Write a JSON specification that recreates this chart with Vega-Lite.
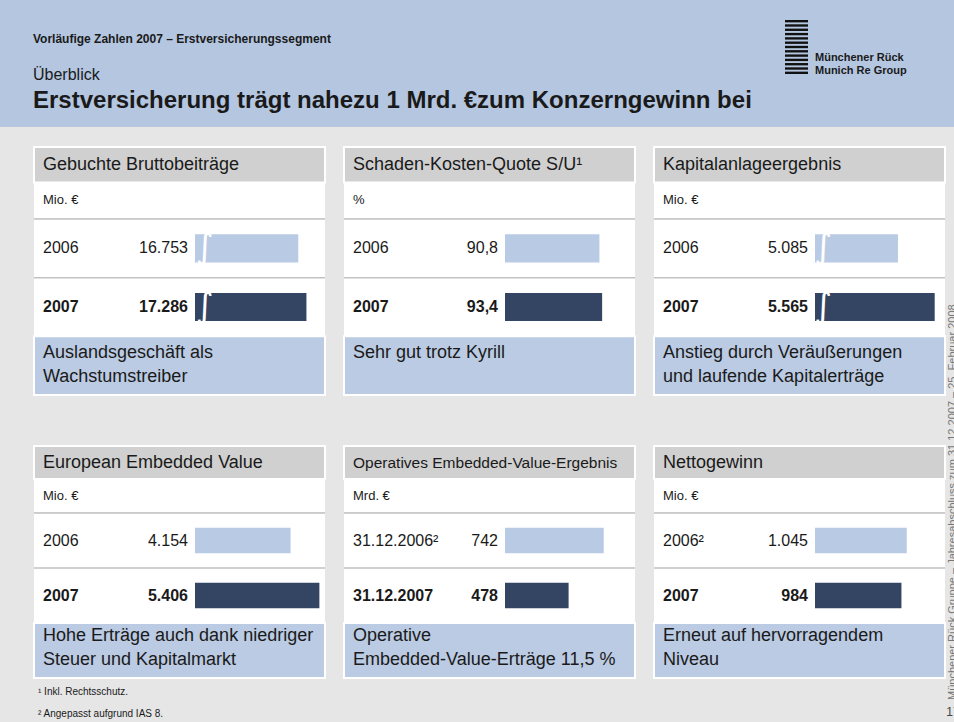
{
  "$schema": "https://vega.github.io/schema/vega-lite/v6.json",
  "background": "#e6e6e6",
  "padding": 0,
  "bounds": "flush",
  "spacing": 20,
  "config": {
    "view": {"stroke": null},
    "font": "Liberation Sans",
    "text": {"font": "Liberation Sans", "color": "#1a1a1a", "lineBreak": "\n"},
    "locale": {"number": {"decimal": ",", "thousands": ".", "grouping": [3], "currency": ["", " €"]}}
  },
  "datasets": {
    "panels": [
      {"panel": "P1", "titel": "Gebuchte Bruttobeiträge", "einheit": "Mio. €", "kommentar": "Auslandsgeschäft als\nWachstumstreiber"},
      {"panel": "P2", "titel": "Schaden-Kosten-Quote S/U¹", "einheit": "%", "kommentar": "Sehr gut trotz Kyrill"},
      {"panel": "P3", "titel": "Kapitalanlageergebnis", "einheit": "Mio. €", "kommentar": "Anstieg durch Veräußerungen\nund laufende Kapitalerträge"},
      {"panel": "P4", "titel": "European Embedded Value", "einheit": "Mio. €", "kommentar": "Hohe Erträge auch dank niedriger\nSteuer und Kapitalmarkt"},
      {"panel": "P5", "titel": "Operatives Embedded-Value-Ergebnis", "einheit": "Mrd. €", "kommentar": "Operative\nEmbedded-Value-Erträge 11,5 %"},
      {"panel": "P6", "titel": "Nettogewinn", "einheit": "Mio. €", "kommentar": "Erneut auf hervorragendem\nNiveau"}
    ],
    "werte": [
      {"panel": "P1", "jahr": "2006", "bezeichnung": "2006", "wert": 16753},
      {"panel": "P1", "jahr": "2007", "bezeichnung": "2007", "wert": 17286},
      {"panel": "P2", "jahr": "2006", "bezeichnung": "2006", "wert": 90.8},
      {"panel": "P2", "jahr": "2007", "bezeichnung": "2007", "wert": 93.4},
      {"panel": "P3", "jahr": "2006", "bezeichnung": "2006", "wert": 5085},
      {"panel": "P3", "jahr": "2007", "bezeichnung": "2007", "wert": 5565},
      {"panel": "P4", "jahr": "2006", "bezeichnung": "2006", "wert": 4154},
      {"panel": "P4", "jahr": "2007", "bezeichnung": "2007", "wert": 5406},
      {"panel": "P5", "jahr": "2006", "bezeichnung": "31.12.2006²", "wert": 742},
      {"panel": "P5", "jahr": "2007", "bezeichnung": "31.12.2007", "wert": 478},
      {"panel": "P6", "jahr": "2006", "bezeichnung": "2006²", "wert": 1045},
      {"panel": "P6", "jahr": "2007", "bezeichnung": "2007", "wert": 984}
    ]
  },
  "vconcat": [
    {
      "width": 954, "height": 127,
      "view": {"fill": "#b4c6e0", "stroke": null},
      "resolve": {"scale": {"x": "independent", "y": "independent"}},
      "layer": [
        {"layer": [
          {"data": {"values": [{"text": "Vorläufige Zahlen 2007 – Erstversicherungssegment"}]},
           "mark": {"type": "text", "align": "left", "baseline": "middle", "fontSize": 12, "fontWeight": "bold"},
           "encoding": {
             "x": {"datum": "Text", "type": "nominal", "scale": {"type": "point", "domain": ["Text", "Logo"], "range": [33, 815], "padding": 0}, "axis": null},
             "y": {"datum": "Kopf", "type": "nominal", "scale": {"type": "point", "domain": ["Kopf", "Logo", "Thema", "Titel"], "range": [39, 101], "padding": 0}, "axis": null},
             "text": {"field": "text"}}},
          {"data": {"values": [{"text": "Überblick"}]},
           "mark": {"type": "text", "align": "left", "baseline": "middle", "fontSize": 16, "dy": -5},
           "encoding": {"x": {"datum": "Text", "type": "nominal"}, "y": {"datum": "Thema", "type": "nominal"}, "text": {"field": "text"}}},
          {"data": {"values": [{"text": "Erstversicherung trägt nahezu 1 Mrd. €zum Konzerngewinn bei"}]},
           "mark": {"type": "text", "align": "left", "baseline": "middle", "fontSize": 24, "fontWeight": "bold"},
           "encoding": {"x": {"datum": "Text", "type": "nominal"}, "y": {"datum": "Titel", "type": "nominal"}, "text": {"field": "text"}}},
          {"data": {"values": [{"text": "Münchener Rück\nMunich Re Group"}]},
           "mark": {"type": "text", "align": "left", "baseline": "middle", "fontSize": 11, "fontWeight": "bold", "lineHeight": 13, "dy": -2},
           "encoding": {"x": {"datum": "Logo", "type": "nominal"}, "y": {"datum": "Logo", "type": "nominal"}, "text": {"field": "text"}}}
        ]},
        {"data": {"values": [{"streifen": 1}, {"streifen": 2}, {"streifen": 3}, {"streifen": 4}, {"streifen": 5}, {"streifen": 6}, {"streifen": 7}, {"streifen": 8}, {"streifen": 9}, {"streifen": 10}, {"streifen": 11}, {"streifen": 12}, {"streifen": 13}]},
         "mark": {"type": "bar", "color": "#111111"},
         "encoding": {
           "x": {"datum": 0, "type": "quantitative", "scale": {"domain": [0, 1], "range": [785, 808], "nice": false, "zero": false}, "axis": null},
           "x2": {"datum": 1},
           "y": {"field": "streifen", "type": "ordinal", "scale": {"range": [20, 74], "paddingInner": 0.45, "paddingOuter": 0}, "axis": null}}}
      ]
    },
    {
      "spacing": 0,
      "hconcat": [
        {"width": 33, "height": 575, "data": {"values": [{}]}, "mark": {"type": "text"}, "encoding": {"text": {"value": ""}}},
        {
          "spacing": 0,
          "vconcat": [
            {
              "spacing": 49,
              "vconcat": [
                {
                  "spacing": 17,
                  "hconcat": [
                    {"spacing": 0, "vconcat": [
                      {"width": 291, "height": 71, "view": {"fill": "white", "stroke": null},
                       "data": {"name": "panels"}, "transform": [{"filter": "datum.panel == 'P1'"}],
                       "layer": [
                         {"mark": {"type": "rect", "fill": "#d0d0d0", "stroke": "white", "strokeWidth": 2},
                          "encoding": {"y": {"datum": "Titel", "type": "nominal", "scale": {"domain": ["Titel", "Einheit"], "paddingInner": 0, "paddingOuter": 0}, "axis": null}}},
                         {"mark": {"type": "text", "align": "left", "baseline": "middle", "fontSize": 18},
                          "encoding": {"x": {"datum": "Bezeichnung", "type": "nominal", "scale": {"type": "point", "domain": ["Bezeichnung", "Wert"], "range": [9, 154], "padding": 0}, "axis": null}, "y": {"datum": "Titel", "type": "nominal"}, "text": {"field": "titel"}}},
                         {"mark": {"type": "text", "align": "left", "baseline": "middle", "fontSize": 13},
                          "encoding": {"x": {"datum": "Bezeichnung", "type": "nominal"}, "y": {"datum": "Einheit", "type": "nominal"}, "text": {"field": "einheit"}}}
                       ]},
                      {"width": 291, "height": 176, "view": {"fill": "white", "stroke": null},
                       "resolve": {"scale": {"x": "independent"}},
                       "layer": [
                         {"data": {"name": "panels"}, "transform": [{"filter": "datum.panel == 'P1'"}],
                          "mark": {"type": "rect", "fill": "#bacbe3", "stroke": "white", "strokeWidth": 2},
                          "encoding": {"y": {"datum": "Kommentar", "type": "nominal", "scale": {"domain": ["2006", "2007", "Kommentar"], "paddingInner": 0, "paddingOuter": 0}, "axis": null}}},
                         {"data": {"name": "werte"}, "transform": [{"filter": "datum.panel == 'P1'"}],
                          "mark": {"type": "rule", "color": "#c2c2c2", "strokeWidth": 1.5},
                          "encoding": {"y": {"field": "jahr", "type": "nominal", "bandPosition": 0}}},
                         {"data": {"name": "werte"}, "transform": [{"filter": "datum.panel == 'P1'"}],
                          "mark": {"type": "bar", "height": {"band": 0.48}},
                          "encoding": {
                            "x": {"field": "wert", "type": "quantitative", "scale": {"domain": [10000, 18500], "range": [161, 291], "nice": false, "zero": false}, "axis": null},
                            "x2": {"datum": 10000},
                            "y": {"field": "jahr", "type": "nominal"},
                            "color": {"field": "jahr", "type": "nominal", "scale": {"domain": ["2006", "2007"], "range": ["#b9cbe4", "#344563"]}, "legend": null}}},
                         {"data": {"name": "werte"}, "transform": [{"filter": "datum.panel == 'P1'"}],
                          "mark": {"type": "text", "text": "∫", "font": "DejaVu Sans", "fontSize": 34, "color": "white", "baseline": "middle", "align": "center"},
                          "encoding": {"x": {"datum": 10650, "type": "quantitative", "scale": {"domain": [10000, 18500], "range": [161, 291], "nice": false, "zero": false}, "axis": null}, "y": {"field": "jahr", "type": "nominal"}}},
                         {"data": {"name": "werte"}, "transform": [{"filter": "datum.panel == 'P1' && datum.jahr == '2006'"}],
                          "mark": {"type": "text", "align": "left", "baseline": "middle", "fontSize": 16},
                          "encoding": {"x": {"datum": "Bezeichnung", "type": "nominal", "scale": {"type": "point", "domain": ["Bezeichnung", "Wert"], "range": [9, 154], "padding": 0}, "axis": null}, "y": {"field": "jahr", "type": "nominal"}, "text": {"field": "bezeichnung"}}},
                         {"data": {"name": "werte"}, "transform": [{"filter": "datum.panel == 'P1' && datum.jahr == '2007'"}],
                          "mark": {"type": "text", "align": "left", "baseline": "middle", "fontSize": 16, "fontWeight": "bold"},
                          "encoding": {"x": {"datum": "Bezeichnung", "type": "nominal", "scale": {"type": "point", "domain": ["Bezeichnung", "Wert"], "range": [9, 154], "padding": 0}, "axis": null}, "y": {"field": "jahr", "type": "nominal"}, "text": {"field": "bezeichnung"}}},
                         {"data": {"name": "werte"}, "transform": [{"filter": "datum.panel == 'P1' && datum.jahr == '2006'"}],
                          "mark": {"type": "text", "align": "right", "baseline": "middle", "fontSize": 16},
                          "encoding": {"x": {"datum": "Wert", "type": "nominal", "scale": {"type": "point", "domain": ["Bezeichnung", "Wert"], "range": [9, 154], "padding": 0}, "axis": null}, "y": {"field": "jahr", "type": "nominal"}, "text": {"field": "wert", "type": "quantitative", "format": ",.0f"}}},
                         {"data": {"name": "werte"}, "transform": [{"filter": "datum.panel == 'P1' && datum.jahr == '2007'"}],
                          "mark": {"type": "text", "align": "right", "baseline": "middle", "fontSize": 16, "fontWeight": "bold"},
                          "encoding": {"x": {"datum": "Wert", "type": "nominal", "scale": {"type": "point", "domain": ["Bezeichnung", "Wert"], "range": [9, 154], "padding": 0}, "axis": null}, "y": {"field": "jahr", "type": "nominal"}, "text": {"field": "wert", "type": "quantitative", "format": ",.0f"}}},
                         {"data": {"name": "panels"}, "transform": [{"filter": "datum.panel == 'P1'"}],
                          "mark": {"type": "text", "align": "left", "baseline": "top", "fontSize": 18, "lineHeight": 24, "dy": 8},
                          "encoding": {"x": {"datum": "Bezeichnung", "type": "nominal", "scale": {"type": "point", "domain": ["Bezeichnung", "Wert"], "range": [9, 154], "padding": 0}, "axis": null}, "y": {"datum": "Kommentar", "type": "nominal", "bandPosition": 0}, "text": {"field": "kommentar"}}}
                       ]}
                    ]},
                    {"spacing": 0, "vconcat": [
                      {"width": 291, "height": 71, "view": {"fill": "white", "stroke": null},
                       "data": {"name": "panels"}, "transform": [{"filter": "datum.panel == 'P2'"}],
                       "layer": [
                         {"mark": {"type": "rect", "fill": "#d0d0d0", "stroke": "white", "strokeWidth": 2},
                          "encoding": {"y": {"datum": "Titel", "type": "nominal", "scale": {"domain": ["Titel", "Einheit"], "paddingInner": 0, "paddingOuter": 0}, "axis": null}}},
                         {"mark": {"type": "text", "align": "left", "baseline": "middle", "fontSize": 18},
                          "encoding": {"x": {"datum": "Bezeichnung", "type": "nominal", "scale": {"type": "point", "domain": ["Bezeichnung", "Wert"], "range": [9, 154], "padding": 0}, "axis": null}, "y": {"datum": "Titel", "type": "nominal"}, "text": {"field": "titel"}}},
                         {"mark": {"type": "text", "align": "left", "baseline": "middle", "fontSize": 13},
                          "encoding": {"x": {"datum": "Bezeichnung", "type": "nominal"}, "y": {"datum": "Einheit", "type": "nominal"}, "text": {"field": "einheit"}}}
                       ]},
                      {"width": 291, "height": 176, "view": {"fill": "white", "stroke": null},
                       "resolve": {"scale": {"x": "independent"}},
                       "layer": [
                         {"data": {"name": "panels"}, "transform": [{"filter": "datum.panel == 'P2'"}],
                          "mark": {"type": "rect", "fill": "#bacbe3", "stroke": "white", "strokeWidth": 2},
                          "encoding": {"y": {"datum": "Kommentar", "type": "nominal", "scale": {"domain": ["2006", "2007", "Kommentar"], "paddingInner": 0, "paddingOuter": 0}, "axis": null}}},
                         {"data": {"name": "werte"}, "transform": [{"filter": "datum.panel == 'P2'"}],
                          "mark": {"type": "rule", "color": "#c2c2c2", "strokeWidth": 1.5},
                          "encoding": {"y": {"field": "jahr", "type": "nominal", "bandPosition": 0}}},
                         {"data": {"name": "werte"}, "transform": [{"filter": "datum.panel == 'P2'"}],
                          "mark": {"type": "bar", "height": {"band": 0.48}},
                          "encoding": {
                            "x": {"field": "wert", "type": "quantitative", "scale": {"domain": [0, 125], "range": [161, 291], "nice": false, "zero": false}, "axis": null},
                            "x2": {"datum": 0},
                            "y": {"field": "jahr", "type": "nominal"},
                            "color": {"field": "jahr", "type": "nominal", "scale": {"domain": ["2006", "2007"], "range": ["#b9cbe4", "#344563"]}, "legend": null}}},
                         {"data": {"name": "werte"}, "transform": [{"filter": "datum.panel == 'P2' && datum.jahr == '2006'"}],
                          "mark": {"type": "text", "align": "left", "baseline": "middle", "fontSize": 16},
                          "encoding": {"x": {"datum": "Bezeichnung", "type": "nominal", "scale": {"type": "point", "domain": ["Bezeichnung", "Wert"], "range": [9, 154], "padding": 0}, "axis": null}, "y": {"field": "jahr", "type": "nominal"}, "text": {"field": "bezeichnung"}}},
                         {"data": {"name": "werte"}, "transform": [{"filter": "datum.panel == 'P2' && datum.jahr == '2007'"}],
                          "mark": {"type": "text", "align": "left", "baseline": "middle", "fontSize": 16, "fontWeight": "bold"},
                          "encoding": {"x": {"datum": "Bezeichnung", "type": "nominal", "scale": {"type": "point", "domain": ["Bezeichnung", "Wert"], "range": [9, 154], "padding": 0}, "axis": null}, "y": {"field": "jahr", "type": "nominal"}, "text": {"field": "bezeichnung"}}},
                         {"data": {"name": "werte"}, "transform": [{"filter": "datum.panel == 'P2' && datum.jahr == '2006'"}],
                          "mark": {"type": "text", "align": "right", "baseline": "middle", "fontSize": 16},
                          "encoding": {"x": {"datum": "Wert", "type": "nominal", "scale": {"type": "point", "domain": ["Bezeichnung", "Wert"], "range": [9, 154], "padding": 0}, "axis": null}, "y": {"field": "jahr", "type": "nominal"}, "text": {"field": "wert", "type": "quantitative", "format": ".1f"}}},
                         {"data": {"name": "werte"}, "transform": [{"filter": "datum.panel == 'P2' && datum.jahr == '2007'"}],
                          "mark": {"type": "text", "align": "right", "baseline": "middle", "fontSize": 16, "fontWeight": "bold"},
                          "encoding": {"x": {"datum": "Wert", "type": "nominal", "scale": {"type": "point", "domain": ["Bezeichnung", "Wert"], "range": [9, 154], "padding": 0}, "axis": null}, "y": {"field": "jahr", "type": "nominal"}, "text": {"field": "wert", "type": "quantitative", "format": ".1f"}}},
                         {"data": {"name": "panels"}, "transform": [{"filter": "datum.panel == 'P2'"}],
                          "mark": {"type": "text", "align": "left", "baseline": "top", "fontSize": 18, "lineHeight": 24, "dy": 8},
                          "encoding": {"x": {"datum": "Bezeichnung", "type": "nominal", "scale": {"type": "point", "domain": ["Bezeichnung", "Wert"], "range": [9, 154], "padding": 0}, "axis": null}, "y": {"datum": "Kommentar", "type": "nominal", "bandPosition": 0}, "text": {"field": "kommentar"}}}
                       ]}
                    ]},
                    {"spacing": 0, "vconcat": [
                      {"width": 291, "height": 71, "view": {"fill": "white", "stroke": null},
                       "data": {"name": "panels"}, "transform": [{"filter": "datum.panel == 'P3'"}],
                       "layer": [
                         {"mark": {"type": "rect", "fill": "#d0d0d0", "stroke": "white", "strokeWidth": 2},
                          "encoding": {"y": {"datum": "Titel", "type": "nominal", "scale": {"domain": ["Titel", "Einheit"], "paddingInner": 0, "paddingOuter": 0}, "axis": null}}},
                         {"mark": {"type": "text", "align": "left", "baseline": "middle", "fontSize": 18},
                          "encoding": {"x": {"datum": "Bezeichnung", "type": "nominal", "scale": {"type": "point", "domain": ["Bezeichnung", "Wert"], "range": [9, 154], "padding": 0}, "axis": null}, "y": {"datum": "Titel", "type": "nominal"}, "text": {"field": "titel"}}},
                         {"mark": {"type": "text", "align": "left", "baseline": "middle", "fontSize": 13},
                          "encoding": {"x": {"datum": "Bezeichnung", "type": "nominal"}, "y": {"datum": "Einheit", "type": "nominal"}, "text": {"field": "einheit"}}}
                       ]},
                      {"width": 291, "height": 176, "view": {"fill": "white", "stroke": null},
                       "resolve": {"scale": {"x": "independent"}},
                       "layer": [
                         {"data": {"name": "panels"}, "transform": [{"filter": "datum.panel == 'P3'"}],
                          "mark": {"type": "rect", "fill": "#bacbe3", "stroke": "white", "strokeWidth": 2},
                          "encoding": {"y": {"datum": "Kommentar", "type": "nominal", "scale": {"domain": ["2006", "2007", "Kommentar"], "paddingInner": 0, "paddingOuter": 0}, "axis": null}}},
                         {"data": {"name": "werte"}, "transform": [{"filter": "datum.panel == 'P3'"}],
                          "mark": {"type": "rule", "color": "#c2c2c2", "strokeWidth": 1.5},
                          "encoding": {"y": {"field": "jahr", "type": "nominal", "bandPosition": 0}}},
                         {"data": {"name": "werte"}, "transform": [{"filter": "datum.panel == 'P3'"}],
                          "mark": {"type": "bar", "height": {"band": 0.48}},
                          "encoding": {
                            "x": {"field": "wert", "type": "quantitative", "scale": {"domain": [4000, 5700], "range": [161, 291], "nice": false, "zero": false}, "axis": null},
                            "x2": {"datum": 4000},
                            "y": {"field": "jahr", "type": "nominal"},
                            "color": {"field": "jahr", "type": "nominal", "scale": {"domain": ["2006", "2007"], "range": ["#b9cbe4", "#344563"]}, "legend": null}}},
                         {"data": {"name": "werte"}, "transform": [{"filter": "datum.panel == 'P3'"}],
                          "mark": {"type": "text", "text": "∫", "font": "DejaVu Sans", "fontSize": 34, "color": "white", "baseline": "middle", "align": "center"},
                          "encoding": {"x": {"datum": 4110, "type": "quantitative", "scale": {"domain": [4000, 5700], "range": [161, 291], "nice": false, "zero": false}, "axis": null}, "y": {"field": "jahr", "type": "nominal"}}},
                         {"data": {"name": "werte"}, "transform": [{"filter": "datum.panel == 'P3' && datum.jahr == '2006'"}],
                          "mark": {"type": "text", "align": "left", "baseline": "middle", "fontSize": 16},
                          "encoding": {"x": {"datum": "Bezeichnung", "type": "nominal", "scale": {"type": "point", "domain": ["Bezeichnung", "Wert"], "range": [9, 154], "padding": 0}, "axis": null}, "y": {"field": "jahr", "type": "nominal"}, "text": {"field": "bezeichnung"}}},
                         {"data": {"name": "werte"}, "transform": [{"filter": "datum.panel == 'P3' && datum.jahr == '2007'"}],
                          "mark": {"type": "text", "align": "left", "baseline": "middle", "fontSize": 16, "fontWeight": "bold"},
                          "encoding": {"x": {"datum": "Bezeichnung", "type": "nominal", "scale": {"type": "point", "domain": ["Bezeichnung", "Wert"], "range": [9, 154], "padding": 0}, "axis": null}, "y": {"field": "jahr", "type": "nominal"}, "text": {"field": "bezeichnung"}}},
                         {"data": {"name": "werte"}, "transform": [{"filter": "datum.panel == 'P3' && datum.jahr == '2006'"}],
                          "mark": {"type": "text", "align": "right", "baseline": "middle", "fontSize": 16},
                          "encoding": {"x": {"datum": "Wert", "type": "nominal", "scale": {"type": "point", "domain": ["Bezeichnung", "Wert"], "range": [9, 154], "padding": 0}, "axis": null}, "y": {"field": "jahr", "type": "nominal"}, "text": {"field": "wert", "type": "quantitative", "format": ",.0f"}}},
                         {"data": {"name": "werte"}, "transform": [{"filter": "datum.panel == 'P3' && datum.jahr == '2007'"}],
                          "mark": {"type": "text", "align": "right", "baseline": "middle", "fontSize": 16, "fontWeight": "bold"},
                          "encoding": {"x": {"datum": "Wert", "type": "nominal", "scale": {"type": "point", "domain": ["Bezeichnung", "Wert"], "range": [9, 154], "padding": 0}, "axis": null}, "y": {"field": "jahr", "type": "nominal"}, "text": {"field": "wert", "type": "quantitative", "format": ",.0f"}}},
                         {"data": {"name": "panels"}, "transform": [{"filter": "datum.panel == 'P3'"}],
                          "mark": {"type": "text", "align": "left", "baseline": "top", "fontSize": 18, "lineHeight": 24, "dy": 8},
                          "encoding": {"x": {"datum": "Bezeichnung", "type": "nominal", "scale": {"type": "point", "domain": ["Bezeichnung", "Wert"], "range": [9, 154], "padding": 0}, "axis": null}, "y": {"datum": "Kommentar", "type": "nominal", "bandPosition": 0}, "text": {"field": "kommentar"}}}
                       ]}
                    ]}
                  ]
                },
                {
                  "spacing": 17,
                  "hconcat": [
                    {"spacing": 0, "vconcat": [
                      {"width": 291, "height": 66, "view": {"fill": "white", "stroke": null},
                       "data": {"name": "panels"}, "transform": [{"filter": "datum.panel == 'P4'"}],
                       "layer": [
                         {"mark": {"type": "rect", "fill": "#d0d0d0", "stroke": "white", "strokeWidth": 2},
                          "encoding": {"y": {"datum": "Titel", "type": "nominal", "scale": {"domain": ["Titel", "Einheit"], "paddingInner": 0, "paddingOuter": 0}, "axis": null}}},
                         {"mark": {"type": "text", "align": "left", "baseline": "middle", "fontSize": 18},
                          "encoding": {"x": {"datum": "Bezeichnung", "type": "nominal", "scale": {"type": "point", "domain": ["Bezeichnung", "Wert"], "range": [9, 154], "padding": 0}, "axis": null}, "y": {"datum": "Titel", "type": "nominal"}, "text": {"field": "titel"}}},
                         {"mark": {"type": "text", "align": "left", "baseline": "middle", "fontSize": 13},
                          "encoding": {"x": {"datum": "Bezeichnung", "type": "nominal"}, "y": {"datum": "Einheit", "type": "nominal"}, "text": {"field": "einheit"}}}
                       ]},
                      {"width": 291, "height": 165, "view": {"fill": "white", "stroke": null},
                       "resolve": {"scale": {"x": "independent"}},
                       "layer": [
                         {"data": {"name": "panels"}, "transform": [{"filter": "datum.panel == 'P4'"}],
                          "mark": {"type": "rect", "fill": "#bacbe3", "stroke": "white", "strokeWidth": 2},
                          "encoding": {"y": {"datum": "Kommentar", "type": "nominal", "scale": {"domain": ["2006", "2007", "Kommentar"], "paddingInner": 0, "paddingOuter": 0}, "axis": null}}},
                         {"data": {"name": "werte"}, "transform": [{"filter": "datum.panel == 'P4'"}],
                          "mark": {"type": "rule", "color": "#c2c2c2", "strokeWidth": 1.5},
                          "encoding": {"y": {"field": "jahr", "type": "nominal", "bandPosition": 0}}},
                         {"data": {"name": "werte"}, "transform": [{"filter": "datum.panel == 'P4'"}],
                          "mark": {"type": "bar", "height": {"band": 0.46}},
                          "encoding": {
                            "x": {"field": "wert", "type": "quantitative", "scale": {"domain": [0, 5650], "range": [161, 291], "nice": false, "zero": false}, "axis": null},
                            "x2": {"datum": 0},
                            "y": {"field": "jahr", "type": "nominal"},
                            "color": {"field": "jahr", "type": "nominal", "scale": {"domain": ["2006", "2007"], "range": ["#b9cbe4", "#344563"]}, "legend": null}}},
                         {"data": {"name": "werte"}, "transform": [{"filter": "datum.panel == 'P4' && datum.jahr == '2006'"}],
                          "mark": {"type": "text", "align": "left", "baseline": "middle", "fontSize": 16},
                          "encoding": {"x": {"datum": "Bezeichnung", "type": "nominal", "scale": {"type": "point", "domain": ["Bezeichnung", "Wert"], "range": [9, 154], "padding": 0}, "axis": null}, "y": {"field": "jahr", "type": "nominal"}, "text": {"field": "bezeichnung"}}},
                         {"data": {"name": "werte"}, "transform": [{"filter": "datum.panel == 'P4' && datum.jahr == '2007'"}],
                          "mark": {"type": "text", "align": "left", "baseline": "middle", "fontSize": 16, "fontWeight": "bold"},
                          "encoding": {"x": {"datum": "Bezeichnung", "type": "nominal", "scale": {"type": "point", "domain": ["Bezeichnung", "Wert"], "range": [9, 154], "padding": 0}, "axis": null}, "y": {"field": "jahr", "type": "nominal"}, "text": {"field": "bezeichnung"}}},
                         {"data": {"name": "werte"}, "transform": [{"filter": "datum.panel == 'P4' && datum.jahr == '2006'"}],
                          "mark": {"type": "text", "align": "right", "baseline": "middle", "fontSize": 16},
                          "encoding": {"x": {"datum": "Wert", "type": "nominal", "scale": {"type": "point", "domain": ["Bezeichnung", "Wert"], "range": [9, 154], "padding": 0}, "axis": null}, "y": {"field": "jahr", "type": "nominal"}, "text": {"field": "wert", "type": "quantitative", "format": ",.0f"}}},
                         {"data": {"name": "werte"}, "transform": [{"filter": "datum.panel == 'P4' && datum.jahr == '2007'"}],
                          "mark": {"type": "text", "align": "right", "baseline": "middle", "fontSize": 16, "fontWeight": "bold"},
                          "encoding": {"x": {"datum": "Wert", "type": "nominal", "scale": {"type": "point", "domain": ["Bezeichnung", "Wert"], "range": [9, 154], "padding": 0}, "axis": null}, "y": {"field": "jahr", "type": "nominal"}, "text": {"field": "wert", "type": "quantitative", "format": ",.0f"}}},
                         {"data": {"name": "panels"}, "transform": [{"filter": "datum.panel == 'P4'"}],
                          "mark": {"type": "text", "align": "left", "baseline": "top", "fontSize": 18, "lineHeight": 24, "dy": 4},
                          "encoding": {"x": {"datum": "Bezeichnung", "type": "nominal", "scale": {"type": "point", "domain": ["Bezeichnung", "Wert"], "range": [9, 154], "padding": 0}, "axis": null}, "y": {"datum": "Kommentar", "type": "nominal", "bandPosition": 0}, "text": {"field": "kommentar"}}}
                       ]}
                    ]},
                    {"spacing": 0, "vconcat": [
                      {"width": 291, "height": 66, "view": {"fill": "white", "stroke": null},
                       "data": {"name": "panels"}, "transform": [{"filter": "datum.panel == 'P5'"}],
                       "layer": [
                         {"mark": {"type": "rect", "fill": "#d0d0d0", "stroke": "white", "strokeWidth": 2},
                          "encoding": {"y": {"datum": "Titel", "type": "nominal", "scale": {"domain": ["Titel", "Einheit"], "paddingInner": 0, "paddingOuter": 0}, "axis": null}}},
                         {"mark": {"type": "text", "align": "left", "baseline": "middle", "fontSize": 15.5},
                          "encoding": {"x": {"datum": "Bezeichnung", "type": "nominal", "scale": {"type": "point", "domain": ["Bezeichnung", "Wert"], "range": [9, 154], "padding": 0}, "axis": null}, "y": {"datum": "Titel", "type": "nominal"}, "text": {"field": "titel"}}},
                         {"mark": {"type": "text", "align": "left", "baseline": "middle", "fontSize": 13},
                          "encoding": {"x": {"datum": "Bezeichnung", "type": "nominal"}, "y": {"datum": "Einheit", "type": "nominal"}, "text": {"field": "einheit"}}}
                       ]},
                      {"width": 291, "height": 165, "view": {"fill": "white", "stroke": null},
                       "resolve": {"scale": {"x": "independent"}},
                       "layer": [
                         {"data": {"name": "panels"}, "transform": [{"filter": "datum.panel == 'P5'"}],
                          "mark": {"type": "rect", "fill": "#bacbe3", "stroke": "white", "strokeWidth": 2},
                          "encoding": {"y": {"datum": "Kommentar", "type": "nominal", "scale": {"domain": ["2006", "2007", "Kommentar"], "paddingInner": 0, "paddingOuter": 0}, "axis": null}}},
                         {"data": {"name": "werte"}, "transform": [{"filter": "datum.panel == 'P5'"}],
                          "mark": {"type": "rule", "color": "#c2c2c2", "strokeWidth": 1.5},
                          "encoding": {"y": {"field": "jahr", "type": "nominal", "bandPosition": 0}}},
                         {"data": {"name": "werte"}, "transform": [{"filter": "datum.panel == 'P5'"}],
                          "mark": {"type": "bar", "height": {"band": 0.46}},
                          "encoding": {
                            "x": {"field": "wert", "type": "quantitative", "scale": {"domain": [0, 977], "range": [161, 291], "nice": false, "zero": false}, "axis": null},
                            "x2": {"datum": 0},
                            "y": {"field": "jahr", "type": "nominal"},
                            "color": {"field": "jahr", "type": "nominal", "scale": {"domain": ["2006", "2007"], "range": ["#b9cbe4", "#344563"]}, "legend": null}}},
                         {"data": {"name": "werte"}, "transform": [{"filter": "datum.panel == 'P5' && datum.jahr == '2006'"}],
                          "mark": {"type": "text", "align": "left", "baseline": "middle", "fontSize": 16},
                          "encoding": {"x": {"datum": "Bezeichnung", "type": "nominal", "scale": {"type": "point", "domain": ["Bezeichnung", "Wert"], "range": [9, 154], "padding": 0}, "axis": null}, "y": {"field": "jahr", "type": "nominal"}, "text": {"field": "bezeichnung"}}},
                         {"data": {"name": "werte"}, "transform": [{"filter": "datum.panel == 'P5' && datum.jahr == '2007'"}],
                          "mark": {"type": "text", "align": "left", "baseline": "middle", "fontSize": 16, "fontWeight": "bold"},
                          "encoding": {"x": {"datum": "Bezeichnung", "type": "nominal", "scale": {"type": "point", "domain": ["Bezeichnung", "Wert"], "range": [9, 154], "padding": 0}, "axis": null}, "y": {"field": "jahr", "type": "nominal"}, "text": {"field": "bezeichnung"}}},
                         {"data": {"name": "werte"}, "transform": [{"filter": "datum.panel == 'P5' && datum.jahr == '2006'"}],
                          "mark": {"type": "text", "align": "right", "baseline": "middle", "fontSize": 16},
                          "encoding": {"x": {"datum": "Wert", "type": "nominal", "scale": {"type": "point", "domain": ["Bezeichnung", "Wert"], "range": [9, 154], "padding": 0}, "axis": null}, "y": {"field": "jahr", "type": "nominal"}, "text": {"field": "wert", "type": "quantitative", "format": ",.0f"}}},
                         {"data": {"name": "werte"}, "transform": [{"filter": "datum.panel == 'P5' && datum.jahr == '2007'"}],
                          "mark": {"type": "text", "align": "right", "baseline": "middle", "fontSize": 16, "fontWeight": "bold"},
                          "encoding": {"x": {"datum": "Wert", "type": "nominal", "scale": {"type": "point", "domain": ["Bezeichnung", "Wert"], "range": [9, 154], "padding": 0}, "axis": null}, "y": {"field": "jahr", "type": "nominal"}, "text": {"field": "wert", "type": "quantitative", "format": ",.0f"}}},
                         {"data": {"name": "panels"}, "transform": [{"filter": "datum.panel == 'P5'"}],
                          "mark": {"type": "text", "align": "left", "baseline": "top", "fontSize": 18, "lineHeight": 24, "dy": 4},
                          "encoding": {"x": {"datum": "Bezeichnung", "type": "nominal", "scale": {"type": "point", "domain": ["Bezeichnung", "Wert"], "range": [9, 154], "padding": 0}, "axis": null}, "y": {"datum": "Kommentar", "type": "nominal", "bandPosition": 0}, "text": {"field": "kommentar"}}}
                       ]}
                    ]},
                    {"spacing": 0, "vconcat": [
                      {"width": 291, "height": 66, "view": {"fill": "white", "stroke": null},
                       "data": {"name": "panels"}, "transform": [{"filter": "datum.panel == 'P6'"}],
                       "layer": [
                         {"mark": {"type": "rect", "fill": "#d0d0d0", "stroke": "white", "strokeWidth": 2},
                          "encoding": {"y": {"datum": "Titel", "type": "nominal", "scale": {"domain": ["Titel", "Einheit"], "paddingInner": 0, "paddingOuter": 0}, "axis": null}}},
                         {"mark": {"type": "text", "align": "left", "baseline": "middle", "fontSize": 18},
                          "encoding": {"x": {"datum": "Bezeichnung", "type": "nominal", "scale": {"type": "point", "domain": ["Bezeichnung", "Wert"], "range": [9, 154], "padding": 0}, "axis": null}, "y": {"datum": "Titel", "type": "nominal"}, "text": {"field": "titel"}}},
                         {"mark": {"type": "text", "align": "left", "baseline": "middle", "fontSize": 13},
                          "encoding": {"x": {"datum": "Bezeichnung", "type": "nominal"}, "y": {"datum": "Einheit", "type": "nominal"}, "text": {"field": "einheit"}}}
                       ]},
                      {"width": 291, "height": 165, "view": {"fill": "white", "stroke": null},
                       "resolve": {"scale": {"x": "independent"}},
                       "layer": [
                         {"data": {"name": "panels"}, "transform": [{"filter": "datum.panel == 'P6'"}],
                          "mark": {"type": "rect", "fill": "#bacbe3", "stroke": "white", "strokeWidth": 2},
                          "encoding": {"y": {"datum": "Kommentar", "type": "nominal", "scale": {"domain": ["2006", "2007", "Kommentar"], "paddingInner": 0, "paddingOuter": 0}, "axis": null}}},
                         {"data": {"name": "werte"}, "transform": [{"filter": "datum.panel == 'P6'"}],
                          "mark": {"type": "rule", "color": "#c2c2c2", "strokeWidth": 1.5},
                          "encoding": {"y": {"field": "jahr", "type": "nominal", "bandPosition": 0}}},
                         {"data": {"name": "werte"}, "transform": [{"filter": "datum.panel == 'P6'"}],
                          "mark": {"type": "bar", "height": {"band": 0.46}},
                          "encoding": {
                            "x": {"field": "wert", "type": "quantitative", "scale": {"domain": [0, 1480], "range": [161, 291], "nice": false, "zero": false}, "axis": null},
                            "x2": {"datum": 0},
                            "y": {"field": "jahr", "type": "nominal"},
                            "color": {"field": "jahr", "type": "nominal", "scale": {"domain": ["2006", "2007"], "range": ["#b9cbe4", "#344563"]}, "legend": null}}},
                         {"data": {"name": "werte"}, "transform": [{"filter": "datum.panel == 'P6' && datum.jahr == '2006'"}],
                          "mark": {"type": "text", "align": "left", "baseline": "middle", "fontSize": 16},
                          "encoding": {"x": {"datum": "Bezeichnung", "type": "nominal", "scale": {"type": "point", "domain": ["Bezeichnung", "Wert"], "range": [9, 154], "padding": 0}, "axis": null}, "y": {"field": "jahr", "type": "nominal"}, "text": {"field": "bezeichnung"}}},
                         {"data": {"name": "werte"}, "transform": [{"filter": "datum.panel == 'P6' && datum.jahr == '2007'"}],
                          "mark": {"type": "text", "align": "left", "baseline": "middle", "fontSize": 16, "fontWeight": "bold"},
                          "encoding": {"x": {"datum": "Bezeichnung", "type": "nominal", "scale": {"type": "point", "domain": ["Bezeichnung", "Wert"], "range": [9, 154], "padding": 0}, "axis": null}, "y": {"field": "jahr", "type": "nominal"}, "text": {"field": "bezeichnung"}}},
                         {"data": {"name": "werte"}, "transform": [{"filter": "datum.panel == 'P6' && datum.jahr == '2006'"}],
                          "mark": {"type": "text", "align": "right", "baseline": "middle", "fontSize": 16},
                          "encoding": {"x": {"datum": "Wert", "type": "nominal", "scale": {"type": "point", "domain": ["Bezeichnung", "Wert"], "range": [9, 154], "padding": 0}, "axis": null}, "y": {"field": "jahr", "type": "nominal"}, "text": {"field": "wert", "type": "quantitative", "format": ",.0f"}}},
                         {"data": {"name": "werte"}, "transform": [{"filter": "datum.panel == 'P6' && datum.jahr == '2007'"}],
                          "mark": {"type": "text", "align": "right", "baseline": "middle", "fontSize": 16, "fontWeight": "bold"},
                          "encoding": {"x": {"datum": "Wert", "type": "nominal", "scale": {"type": "point", "domain": ["Bezeichnung", "Wert"], "range": [9, 154], "padding": 0}, "axis": null}, "y": {"field": "jahr", "type": "nominal"}, "text": {"field": "wert", "type": "quantitative", "format": ",.0f"}}},
                         {"data": {"name": "panels"}, "transform": [{"filter": "datum.panel == 'P6'"}],
                          "mark": {"type": "text", "align": "left", "baseline": "top", "fontSize": 18, "lineHeight": 24, "dy": 4},
                          "encoding": {"x": {"datum": "Bezeichnung", "type": "nominal", "scale": {"type": "point", "domain": ["Bezeichnung", "Wert"], "range": [9, 154], "padding": 0}, "axis": null}, "y": {"datum": "Kommentar", "type": "nominal", "bandPosition": 0}, "text": {"field": "kommentar"}}}
                       ]}
                    ]}
                  ]
                }
              ]
            },
            {
              "width": 907, "height": 48,
              "data": {"values": [{"nr": "1", "text": "¹ Inkl. Rechtsschutz."}, {"nr": "2", "text": "² Angepasst aufgrund IAS 8."}]},
              "mark": {"type": "text", "align": "left", "baseline": "middle", "fontSize": 10},
              "encoding": {
                "x": {"datum": "Fußnote", "type": "nominal", "scale": {"type": "point", "domain": ["Fußnote", "Rand"], "range": [4, 907], "padding": 0}, "axis": null},
                "y": {"field": "nr", "type": "nominal", "scale": {"type": "point", "domain": ["1", "2"], "range": [13, 35], "padding": 0}, "axis": null},
                "text": {"field": "text"}}
            }
          ]
        },
        {
          "width": 14, "height": 575,
          "layer": [
            {"data": {"values": [{"text": "Münchener Rück Gruppe – Jahresabschluss zum 31.12.2007 – 25. Februar 2008"}]},
             "mark": {"type": "text", "angle": 270, "align": "left", "baseline": "middle", "fontSize": 11, "color": "#777777"},
             "encoding": {
               "y": {"datum": "Fußzeile", "type": "nominal", "scale": {"type": "point", "domain": ["Fußzeile", "Seite"], "range": [553, 565], "padding": 0}, "axis": null},
               "text": {"field": "text"}}},
            {"data": {"values": [{"text": "17"}]},
             "mark": {"type": "text", "align": "center", "baseline": "middle", "fontSize": 12, "color": "#444444"},
             "encoding": {"y": {"datum": "Seite", "type": "nominal"}, "text": {"field": "text"}}}
          ]
        }
      ]
    }
  ]
}
